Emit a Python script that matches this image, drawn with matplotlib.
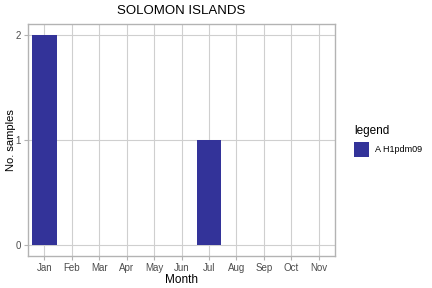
import matplotlib
matplotlib.use("Agg")
import matplotlib.pyplot as plt
from matplotlib.patches import Patch

plt.rcParams["font.family"] = ["Liberation Sans", "DejaVu Sans"]

months = ["Jan", "Feb", "Mar", "Apr", "May", "Jun", "Jul", "Aug", "Sep", "Oct", "Nov"]
samples = [2, 0, 0, 0, 0, 0, 1, 0, 0, 0, 0]
series_name = "A H1pdm09"
bar_color = "#333399"

fig = plt.figure(figsize=(4.32, 2.88), dpi=100)
ax = fig.add_axes([28 / 432, 1 - 256 / 288, 307 / 432, 232 / 288])

x = list(range(1, len(months) + 1))
ax.bar(x, samples, width=0.9, color=bar_color, zorder=3)

ax.set_xlim(0.4, len(months) + 0.6)
ax.set_ylim(-0.1, 2.1)
ax.set_xticks(x)
ax.set_xticklabels(months)
ax.set_yticks([0, 1, 2])

ax.grid(True, color="#cfcfcf", linewidth=0.8, zorder=0)
ax.set_axisbelow(True)
for s in ax.spines.values():
    s.set_color("#b3b3b3")
    s.set_linewidth(1.0)
ax.tick_params(axis="both", colors="#b3b3b3", labelcolor="#4d4d4d",
               labelsize=7, length=3, width=0.8, pad=2)

ax.set_xlabel("Month", fontsize=8.5, labelpad=1)
ax.set_ylabel("No. samples", fontsize=8, labelpad=0)
ax.set_title("SOLOMON ISLANDS", fontsize=9.5, pad=7)

fig.legend(handles=[Patch(facecolor=bar_color, label=series_name)],
           title="legend", loc="upper left", bbox_to_anchor=(346 / 432, 1 - 117 / 288),
           frameon=False, fontsize=6.5, title_fontsize=8.5,
           handlelength=1.7, handleheight=2.3, handletextpad=0.6, alignment="left")

fig.savefig("out.png", dpi=100)
